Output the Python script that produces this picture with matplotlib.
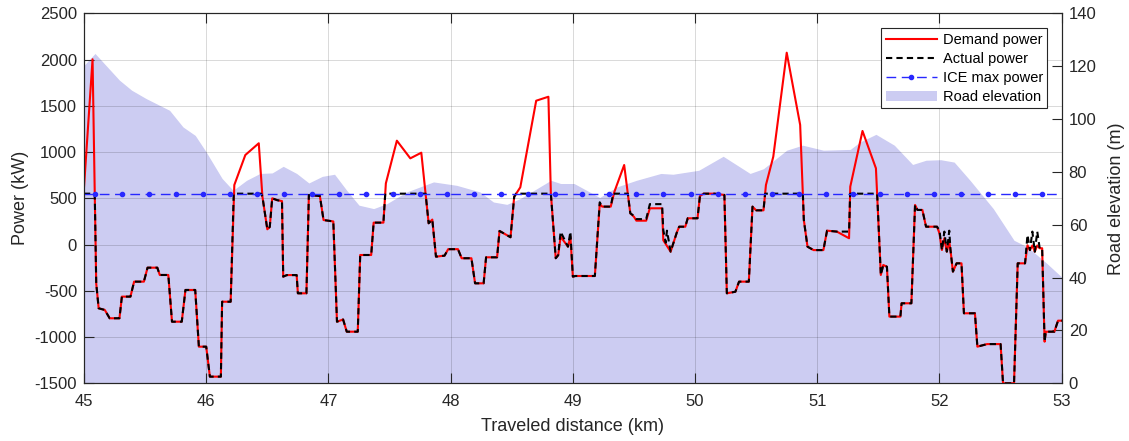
import numpy as np
import matplotlib
matplotlib.use("Agg")
import matplotlib.pyplot as plt
from matplotlib.patches import Patch

plt.rcParams['font.family'] = ['Liberation Sans', 'DejaVu Sans']
plt.rcParams['axes.unicode_minus'] = False

# ---------- DATA ----------

demand_km = [45.00, 45.07, 45.10, 45.12, 45.17, 45.21, 45.29, 45.31, 45.38, 45.41,
             45.49, 45.52, 45.60, 45.62, 45.69, 45.72, 45.80, 45.83, 45.91, 45.94,
             46.00, 46.03, 46.12, 46.13, 46.20, 46.23, 46.32, 46.43, 46.46, 46.50,
             46.52, 46.54, 46.58, 46.62, 46.63, 46.66, 46.74, 46.75, 46.82, 46.84,
             46.93, 46.96, 47.04, 47.07, 47.12, 47.15, 47.24, 47.26, 47.35, 47.37,
             47.45, 47.47, 47.56, 47.67, 47.76, 47.82, 47.85, 47.88, 47.95, 47.98,
             48.06, 48.09, 48.17, 48.20, 48.27, 48.29, 48.38, 48.40, 48.49, 48.52,
             48.57, 48.70, 48.80, 48.82, 48.86, 48.88, 48.90, 48.96, 48.98, 49.00,
             49.02, 49.18, 49.22, 49.24, 49.31, 49.34, 49.42, 49.47, 49.50, 49.52,
             49.60, 49.63, 49.73, 49.74, 49.80, 49.83, 49.85, 49.87, 49.92, 49.94,
             50.02, 50.04, 50.07, 50.16, 50.24, 50.26, 50.33, 50.36, 50.44, 50.47,
             50.50, 50.56, 50.58, 50.64, 50.75, 50.86, 50.89, 50.92, 50.97, 51.05,
             51.08, 51.16, 51.26, 51.27, 51.37, 51.48, 51.52, 51.54, 51.57, 51.59,
             51.68, 51.69, 51.77, 51.80, 51.82, 51.86, 51.89, 51.98, 52.00, 52.02,
             52.04, 52.06, 52.08, 52.09, 52.11, 52.14, 52.18, 52.20, 52.29, 52.31,
             52.39, 52.50, 52.52, 52.61, 52.64, 52.70, 52.72, 52.74, 52.76, 52.78,
             52.80, 52.82, 52.84, 52.86, 52.87, 52.94, 52.97, 53.00]
demand_kw = [620, 2003, -420, -689, -707, -797, -797, -563, -563, -401,
             -401, -250, -250, -329, -329, -834, -834, -491, -491, -1104,
             -1104, -1428, -1428, -618, -618, 644, 968, 1095, 517, 165,
             190, 500, 480, 470, -347, -330, -330, -527, -527, 536,
             525, 265, 250, -834, -810, -942, -942, -113, -113, 237,
             237, 662, 1123, 932, 993, 230, 270, -131, -120, -50,
             -50, -148, -148, -419, -419, -138, -138, 147, 79, 517,
             619, 1555, 1598, 554, -148, -115, 85, -23, 85, -347,
             -340, -340, 440, 410, 410, 571, 860, 338, 300, 258,
             258, 392, 392, 47, -77, 47, 128, 193, 193, 284,
             284, 525, 550, 550, 536, -527, -510, -401, -401, 410,
             370, 370, 644, 950, 2074, 1293, 266, -23, -60, -60,
             150, 140, 68, 626, 1228, 824, -329, -221, -240, -779,
             -779, -635, -635, 428, 374, 374, 193, 193, 120, -59,
             68, -77, 30, -59, -293, -203, -203, -743, -743, -1104,
             -1076, -1076, -1500, -1500, -203, -203, -8, -60, -10, -77,
             -10, -40, -40, -1050, -942, -942, -823, -823]

actual_km = [45.00, 45.088, 45.10, 45.12, 45.17, 45.21, 45.29, 45.31, 45.38, 45.41,
             45.49, 45.52, 45.60, 45.62, 45.69, 45.72, 45.80, 45.83, 45.91, 45.94,
             46.00, 46.03, 46.12, 46.13, 46.20, 46.225, 46.45, 46.46, 46.50,
             46.52, 46.54, 46.58, 46.62, 46.63, 46.66, 46.74, 46.75, 46.82, 46.84,
             46.93, 46.96, 47.04, 47.07, 47.12, 47.15, 47.24, 47.26, 47.35, 47.37,
             47.45, 47.465, 47.795, 47.82, 47.85, 47.88, 47.95, 47.98,
             48.06, 48.09, 48.17, 48.20, 48.27, 48.29, 48.38, 48.40, 48.49, 48.52,
             48.536, 48.82, 48.86, 48.88, 48.90, 48.96, 48.98, 49.00,
             49.02, 49.18, 49.22, 49.24, 49.31, 49.33, 49.45, 49.47, 49.50, 49.52,
             49.60, 49.63, 49.73, 49.74, 49.76, 49.77, 49.80, 49.83, 49.85, 49.87, 49.92, 49.94,
             50.02, 50.04, 50.07, 50.16, 50.24, 50.26, 50.33, 50.36, 50.44, 50.47,
             50.50, 50.56, 50.573, 50.882, 50.89, 50.92, 50.97, 51.05,
             51.08, 51.16, 51.26, 51.269, 51.49, 51.52, 51.54, 51.57, 51.59,
             51.68, 51.69, 51.77, 51.80, 51.82, 51.86, 51.89, 51.98, 52.00, 52.02,
             52.04, 52.06, 52.08, 52.09, 52.11, 52.14, 52.18, 52.20, 52.29, 52.31,
             52.39, 52.50, 52.52, 52.61, 52.64, 52.70, 52.72, 52.74, 52.76, 52.78,
             52.80, 52.82, 52.84, 52.86, 52.87, 52.94, 52.97, 53.00]
actual_kw = [550, 550, -420, -689, -707, -797, -797, -563, -563, -401,
             -401, -250, -250, -329, -329, -834, -834, -491, -491, -1104,
             -1104, -1428, -1428, -618, -618, 550, 550, 517, 165,
             190, 500, 480, 470, -347, -330, -330, -527, -527, 536,
             525, 265, 250, -834, -810, -942, -942, -113, -113, 237,
             237, 550, 550, 230, 270, -131, -120, -50,
             -50, -148, -148, -419, -419, -138, -138, 147, 79, 517,
             550, 550, -148, -115, 139, -23, 139, -347,
             -340, -340, 457, 410, 410, 550, 550, 338, 310, 275,
             275, 437, 437, 157, 20, 150, -77, 47, 128, 193, 193, 284,
             284, 525, 550, 550, 536, -527, -510, -401, -401, 410,
             370, 370, 550, 550, 266, -23, -60, -60,
             150, 140, 140, 550, 550, -329, -221, -240, -779,
             -779, -635, -635, 428, 374, 374, 193, 193, 150, -59,
             140, -77, 150, -59, -293, -203, -203, -743, -743, -1104,
             -1076, -1076, -1500, -1500, -203, -203, 104, -60, 140, -77,
             140, -40, -40, -1050, -942, -942, -823, -823]

ice_max_kw = 550

elev_km = [45.00, 45.09, 45.29, 45.39, 45.51, 45.70, 45.81, 45.91, 46.00, 46.13,
           46.22, 46.33, 46.44, 46.54, 46.63, 46.74, 46.84, 46.95, 47.05, 47.15,
           47.25, 47.37, 47.48, 47.64, 47.86, 48.05, 48.24, 48.35, 48.46, 48.57,
           48.82, 48.90, 49.01, 49.22, 49.36, 49.52, 49.72, 49.82, 50.03, 50.23,
           50.45, 50.56, 50.75, 50.88, 51.05, 51.27, 51.35, 51.48, 51.63, 51.78,
           51.89, 52.01, 52.12, 52.25, 52.44, 52.61, 52.72, 52.88, 53.00]
elev_m = [120.3, 124.8, 114.7, 110.9, 107.7, 103.3, 97.0, 93.8, 87.5, 77.5,
          73.0, 76.8, 79.4, 79.6, 82.1, 79.4, 75.8, 78.3, 79.1, 73.0,
          67.4, 66.1, 68.0, 72.4, 76.2, 74.9, 72.4, 68.6, 67.7, 69.9,
          76.8, 75.6, 75.6, 70.3, 74.3, 76.8, 79.4, 79.1, 80.6, 85.9,
          79.4, 81.2, 88.2, 90.1, 88.2, 88.5, 91.3, 94.2, 90.1, 82.8,
          84.4, 84.6, 83.7, 76.8, 66.1, 54.1, 51.6, 45.3, 40.2]

power_ticks = [-1500, -1000, -500, 0, 500, 1000, 1500, 2000, 2500]
elev_ticks = [0, 20, 40, 60, 80, 100, 120, 140]
km_ticks = [45, 46, 47, 48, 49, 50, 51, 52, 53]

# ---------- PLOT ----------

W, H = 1129, 441
fig = plt.figure(figsize=(W / 100, H / 100), dpi=100)
ax = fig.add_axes([84 / W, 1 - 383.3 / H, (1061.7 - 84) / W, (383.3 - 13.3) / H])
ax2 = ax.twinx()

dark = '#262626'
fill_col = '#CCCCF2'

ax2.fill_between(elev_km, elev_m, 0, color=fill_col, lw=0)
ax2.set_ylim(0, 140)
ax2.set_yticks(elev_ticks)
ax2.set_ylabel('Road elevation (m)', fontsize=13, color=dark, labelpad=8)

# power lines above the elevation area
ax.set_zorder(ax2.get_zorder() + 1)
ax.patch.set_visible(False)

ax.plot(demand_km, demand_kw, color='#FF0000', lw=1.5, label='Demand power')
ax.plot(actual_km, actual_kw, color='black', lw=1.5, dashes=(3, 2), label='Actual power')
ice_x = np.arange(45.09, 53.0, 0.2215)
ax.plot([45.0] + list(ice_x) + [53.0], [ice_max_kw] * (len(ice_x) + 2),
        color='#2828FF', lw=1.0, dashes=(7, 4), marker='.', markersize=6,
        markevery=list(range(1, len(ice_x) + 1)), label='ICE max power')

ax.set_xlim(45, 53)
ax.set_ylim(-1500, 2500)
ax.set_xticks(km_ticks)
ax.set_yticks(power_ticks)
ax.grid(True, color='black', alpha=0.15, lw=0.7)
ax.set_xlabel('Traveled distance (km)', fontsize=13, color=dark, labelpad=6)
ax.set_ylabel('Power (kW)', fontsize=13, color=dark, labelpad=4)

for a in (ax, ax2):
    for sp in a.spines.values():
        sp.set_color(dark)
        sp.set_linewidth(0.8)
ax.tick_params(axis='both', direction='in', length=7, width=0.8, colors=dark,
               labelsize=12, top=True, right=False, pad=5)
ax.tick_params(axis='x', pad=8)
ax2.tick_params(axis='y', direction='in', length=7, width=0.8, colors=dark,
                labelsize=12, pad=5)

handles, labels = ax.get_legend_handles_labels()
handles.append(Patch(facecolor=fill_col, edgecolor='none'))
labels.append('Road elevation')
leg = ax.legend(handles, labels, loc='upper right',
                bbox_to_anchor=((1047.3 - 84) / 977.7, (383.3 - 28.3) / 370),
                borderaxespad=0, fontsize=10.5, fancybox=False, framealpha=1,
                edgecolor=dark, handlelength=3.5, labelspacing=0.35,
                borderpad=0.3, handletextpad=0.4)
leg.get_frame().set_linewidth(0.8)

fig.savefig('out.png', dpi=100)
